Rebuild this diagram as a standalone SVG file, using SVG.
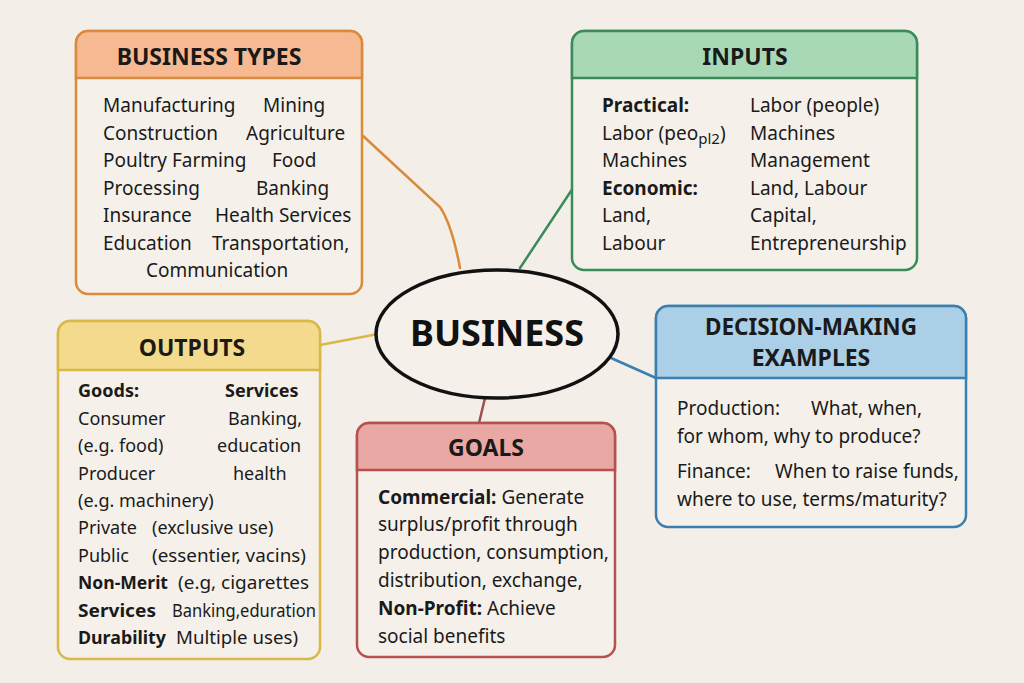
<svg xmlns="http://www.w3.org/2000/svg" width="1024" height="683" viewBox="0 0 1024 683">
<style>
.bg{fill:#f3efe8}
.box{fill:#f5f1ea;stroke-width:2.5}
.t{font-family:"Noto Sans","Open Sans",sans-serif;font-size:19px;fill:#1a1a1a}
.o{font-size:18px}
.b{font-weight:bold}
.h{font-family:"Noto Sans","Open Sans",sans-serif;font-size:23px;font-weight:bold;fill:#1a1a1a;text-anchor:middle}
.c{fill:none;stroke-width:2.5;stroke-linecap:round}
</style>
<rect class="bg" x="0" y="0" width="1024" height="683"/>
<g id="connectors">
<path class="c" stroke="#d98a3a" d="M362,135 L440,207 Q452,225 460,268"/>
<path class="c" stroke="#3a8a5a" d="M575,185 L520,268"/>
<path class="c" stroke="#d9b84a" d="M320,345 L378,334"/>
<path class="c" stroke="#3b7fb0" d="M611,358 L656,378"/>
<path class="c" stroke="#a0504a" d="M485,398 L479,423"/>
</g>
<g id="business-types">
<rect class="box" x="76" y="31" width="286" height="263" rx="12" stroke="#d98a3a"/>
<path d="M88,31 H350 A12,12 0 0 1 362,43 V78 H76 V43 A12,12 0 0 1 88,31 Z" fill="#f6b992" stroke="#d98a3a" stroke-width="2.5"/>
<text class="h" x="209" y="65">BUSINESS TYPES</text>
<text class="t" x="103" y="112">Manufacturing</text><text class="t" x="263" y="112">Mining</text>
<text class="t" x="103" y="140">Construction</text><text class="t" x="246" y="140">Agriculture</text>
<text class="t" x="103" y="167">Poultry Farming</text><text class="t" x="272" y="167">Food</text>
<text class="t" x="103" y="195">Processing</text><text class="t" x="256" y="195">Banking</text>
<text class="t" x="103" y="222">Insurance</text><text class="t" x="215" y="222">Health Services</text>
<text class="t" x="103" y="250">Education</text><text class="t" x="212" y="250">Transportation,</text>
<text class="t" x="146" y="277">Communication</text>
</g>
<g id="inputs">
<rect class="box" x="572" y="31" width="345" height="239" rx="12" stroke="#3a8a5a"/>
<path d="M584,31 H905 A12,12 0 0 1 917,43 V78 H572 V43 A12,12 0 0 1 584,31 Z" fill="#a9d8b6" stroke="#3a8a5a" stroke-width="2.5"/>
<text class="h" x="745" y="65">INPUTS</text>
<text class="t b" x="602" y="112">Practical:</text><text class="t" x="750" y="112">Labor (people)</text>
<text class="t" x="602" y="140">Labor (peo<tspan font-size="15" dy="4">pl2</tspan><tspan dy="-4">)</tspan></text><text class="t" x="750" y="140">Machines</text>
<text class="t" x="602" y="167">Machines</text><text class="t" x="750" y="167">Management</text>
<text class="t b" x="602" y="195">Economic:</text><text class="t" x="750" y="195">Land, Labour</text>
<text class="t" x="602" y="222">Land,</text><text class="t" x="750" y="222">Capital,</text>
<text class="t" x="602" y="250">Labour</text><text class="t" x="750" y="250">Entrepreneurship</text>
</g>
<g id="outputs">
<rect class="box" x="58" y="321" width="262" height="338" rx="12" stroke="#d9b84a"/>
<path d="M70,321 H308 A12,12 0 0 1 320,333 V370 H58 V333 A12,12 0 0 1 70,321 Z" fill="#f3da8c" stroke="#d9b84a" stroke-width="2.5"/>
<text class="h" x="192" y="356">OUTPUTS</text>
<text class="t o b" x="78" y="397">Goods:</text><text class="t o b" x="225" y="397">Services</text>
<text class="t o" x="78" y="425">Consumer</text><text class="t o" x="228" y="425">Banking,</text>
<text class="t o" x="78" y="452">(e.g. food)</text><text class="t o" x="217" y="452">education</text>
<text class="t o" x="78" y="480">Producer</text><text class="t o" x="233" y="480">health</text>
<text class="t o" x="78" y="507">(e.g. machinery)</text>
<text class="t o" x="78" y="534">Private</text><text class="t o" x="152" y="534">(exclusive use)</text>
<text class="t o" x="78" y="562">Public</text><text class="t o" x="152" y="562" textLength="154" lengthAdjust="spacingAndGlyphs">(essentier, vacins)</text>
<text class="t o b" x="78" y="589" textLength="90" lengthAdjust="spacingAndGlyphs">Non-Merit</text><text class="t o" x="178" y="589" textLength="131" lengthAdjust="spacingAndGlyphs">(e.g, cigarettes</text>
<text class="t o b" x="78" y="617" textLength="78" lengthAdjust="spacingAndGlyphs">Services</text><text class="t o" x="172" y="617" textLength="144" lengthAdjust="spacingAndGlyphs">Banking,eduration</text>
<text class="t o b" x="78" y="644" textLength="88" lengthAdjust="spacingAndGlyphs">Durability</text><text class="t o" x="176" y="644" textLength="122" lengthAdjust="spacingAndGlyphs">Multiple uses)</text>
</g>
<g id="goals">
<rect class="box" x="357" y="423" width="258" height="234" rx="12" stroke="#b5524f"/>
<path d="M369,423 H603 A12,12 0 0 1 615,435 V470 H357 V435 A12,12 0 0 1 369,423 Z" fill="#e9a8a4" stroke="#b5524f" stroke-width="2.5"/>
<text class="h" x="486" y="456" font-size="24">GOALS</text>
<text class="t" x="378" y="504"><tspan class="b">Commercial:</tspan>  Generate</text>
<text class="t" x="378" y="531">surplus/profit through</text>
<text class="t" x="378" y="559">production, consumption,</text>
<text class="t" x="378" y="587">distribution, exchange,</text>
<text class="t" x="378" y="615"><tspan class="b">Non-Profit:</tspan> Achieve</text>
<text class="t" x="378" y="643">social benefits</text>
</g>
<g id="decision-making">
<rect class="box" x="656" y="306" width="310" height="221" rx="12" stroke="#3b7fb0"/>
<path d="M668,306 H954 A12,12 0 0 1 966,318 V378 H656 V318 A12,12 0 0 1 668,306 Z" fill="#aacfe6" stroke="#3b7fb0" stroke-width="2.5"/>
<text class="h" x="811" y="335" font-size="21" textLength="212" lengthAdjust="spacingAndGlyphs">DECISION-MAKING</text>
<text class="h" x="811" y="366" font-size="21">EXAMPLES</text>
<text class="t" x="677" y="415">Production:</text><text class="t" x="811" y="415">What, when,</text>
<text class="t" x="677" y="443">for whom, why to produce?</text>
<text class="t" x="677" y="478">Finance:</text><text class="t" x="775" y="478">When to raise funds,</text>
<text class="t" x="677" y="506">where to use, terms/maturity?</text>
</g>
<g id="business">
<ellipse cx="497" cy="334" rx="121" ry="64" fill="#f5f1ea" stroke="#111" stroke-width="3.5"/>
<text x="497" y="346" text-anchor="middle" font-family="'Noto Sans','Open Sans',sans-serif" font-size="36" font-weight="bold" fill="#111">BUSINESS</text>
</g>
</svg>
